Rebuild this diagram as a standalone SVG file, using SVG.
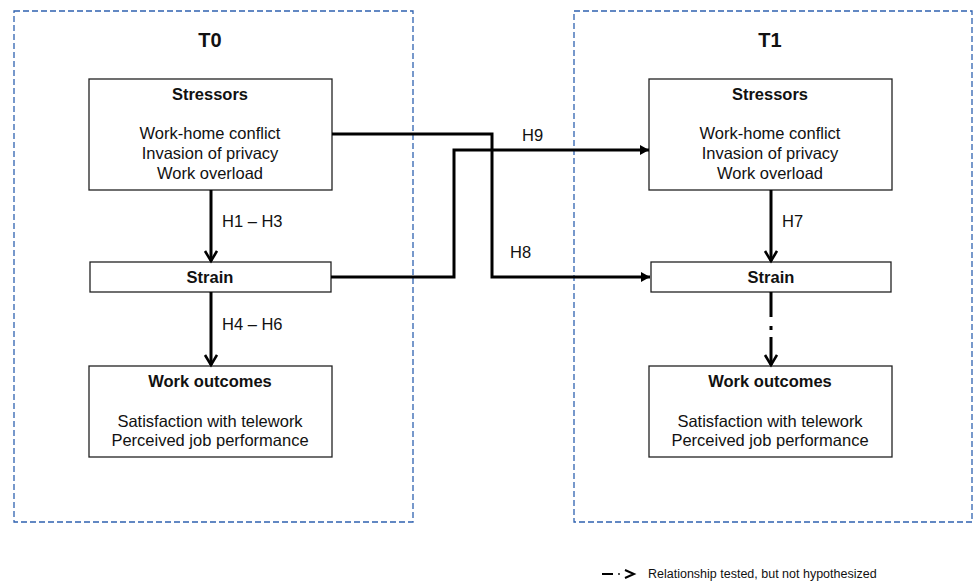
<svg xmlns="http://www.w3.org/2000/svg" width="973" height="582" viewBox="0 0 973 582">
<defs>
<style>
.frame{fill:none;stroke:#2f62b0;stroke-width:1.3;stroke-dasharray:6 3}
.box{fill:#fff;stroke:#222;stroke-width:1.3}
.t{font-family:"Liberation Sans",Arial,sans-serif;font-size:16.5px;fill:#111;text-anchor:middle}
.b{font-weight:bold}
.title{font-family:"Liberation Sans",Arial,sans-serif;font-size:20px;font-weight:bold;fill:#111;text-anchor:middle}
.lbl{font-family:"Liberation Sans",Arial,sans-serif;font-size:16.5px;fill:#111}
.conn{fill:none;stroke:#000;stroke-width:3}
</style>
<marker id="tri" markerUnits="userSpaceOnUse" markerWidth="12" markerHeight="12" refX="9" refY="5" orient="auto">
<path d="M0,0 L9,5 L0,10 Z" fill="#000"/>
</marker>
<marker id="vee" markerUnits="userSpaceOnUse" markerWidth="16" markerHeight="16" refX="11" refY="7" orient="auto">
<path d="M1,1 L11,7 L1,13" fill="none" stroke="#000" stroke-width="2.6"/>
</marker>
</defs>
<rect width="973" height="582" fill="#fff"/>

<g id="frame-t0">
<rect class="frame" x="14" y="11" width="399" height="511"/>
<text class="title" x="210" y="47">T0</text>
</g>
<g id="frame-t1">
<rect class="frame" x="574" y="11" width="398" height="511"/>
<text class="title" x="770" y="47">T1</text>
</g>

<g id="stressors-t0">
<rect class="box" x="89" y="79" width="243" height="111"/>
<text class="t b" x="210" y="100">Stressors</text>
<text class="t" x="210" y="139">Work-home conflict</text>
<text class="t" x="210" y="159">Invasion of privacy</text>
<text class="t" x="210" y="179">Work overload</text>
</g>
<g id="strain-t0">
<rect class="box" x="90" y="262" width="241" height="30"/>
<text class="t b" x="210" y="283">Strain</text>
</g>
<g id="outcomes-t0">
<rect class="box" x="89" y="366" width="243" height="91"/>
<text class="t b" x="210" y="387">Work outcomes</text>
<text class="t" x="210" y="427">Satisfaction with telework</text>
<text class="t" x="210" y="446">Perceived job performance</text>
</g>

<g id="stressors-t1">
<rect class="box" x="649" y="79" width="243" height="111"/>
<text class="t b" x="770" y="100">Stressors</text>
<text class="t" x="770" y="139">Work-home conflict</text>
<text class="t" x="770" y="159">Invasion of privacy</text>
<text class="t" x="770" y="179">Work overload</text>
</g>
<g id="strain-t1">
<rect class="box" x="651" y="262" width="240" height="30"/>
<text class="t b" x="771" y="283">Strain</text>
</g>
<g id="outcomes-t1">
<rect class="box" x="649" y="366" width="243" height="91"/>
<text class="t b" x="770" y="387">Work outcomes</text>
<text class="t" x="770" y="427">Satisfaction with telework</text>
<text class="t" x="770" y="446">Perceived job performance</text>
</g>

<g id="connectors">
<path class="conn" d="M211,190 V261" marker-end="url(#vee)"/>
<path class="conn" d="M211,292 V365" marker-end="url(#vee)"/>
<path class="conn" d="M771,190 V261" marker-end="url(#vee)"/>
<path class="conn" d="M771,292 V365" stroke-dasharray="25 9 4 7 40" marker-end="url(#vee)"/>
<path class="conn" d="M332,134 H492 V277 H650" marker-end="url(#tri)"/>
<path class="conn" d="M331,277 H454 V150 H649" marker-end="url(#tri)"/>
<text class="lbl" x="222" y="227">H1 – H3</text>
<text class="lbl" x="222" y="330">H4 – H6</text>
<text class="lbl" x="782" y="227">H7</text>
<text class="lbl" x="510" y="258">H8</text>
<text class="lbl" x="522" y="141">H9</text>
</g>

<g id="legend">
<line x1="602" y1="574" x2="613" y2="574" stroke="#000" stroke-width="2"/>
<circle cx="619" cy="574" r="0.9" fill="#000"/>
<path d="M625,570 L634,574 L625,578" fill="none" stroke="#000" stroke-width="2"/>
<text x="648" y="578" font-family="Liberation Sans, Arial, sans-serif" font-size="12.5" fill="#111">Relationship tested, but not hypothesized</text>
</g>
</svg>
